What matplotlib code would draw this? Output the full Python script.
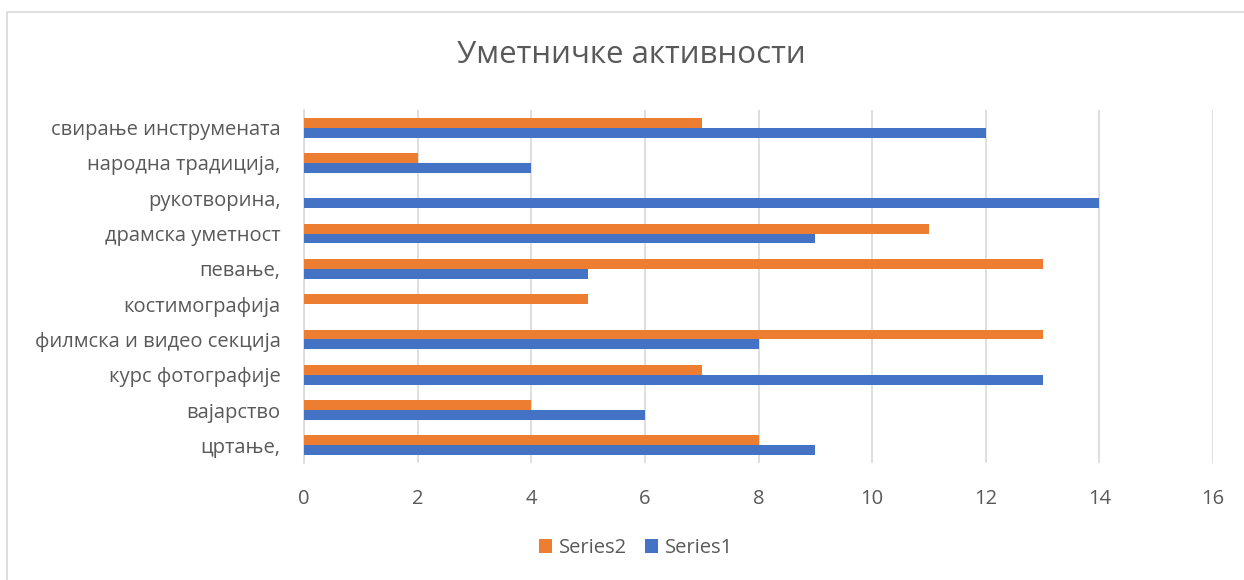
import matplotlib.pyplot as plt
from matplotlib.patches import Rectangle

plt.rcParams['font.family'] = ['Open Sans', 'DejaVu Sans']

# категорије одоздо нагоре
categories = ['цртање,', 'вајарство', 'курс фотографије', 'филмска и видео секција',
              'костимографија', 'певање,', 'драмска уметност', 'рукотворина,',
              'народна традиција,', 'свирање инструмената']
series1 = [9, 6, 13, 8, 0, 5, 9, 14, 4, 12]
series2 = [8, 4, 7, 13, 5, 13, 11, 0, 2, 7]
xticks = [0, 2, 4, 6, 8, 10, 12, 14, 16]

fig = plt.figure(figsize=(12.44, 5.8), dpi=100)
fig.patches.append(Rectangle((7 / 1244, -0.1), 1.2, 1.1 - 12 / 580, transform=fig.transFigure,
                             fill=False, edgecolor='#D9D9D9', linewidth=1.2))

ax = fig.add_axes([304 / 1244, 1 - 463 / 580, (1213 - 304) / 1244, (463 - 110) / 580])

h = 0.28
pos = list(range(len(categories)))
ax.barh([p - h / 2 for p in pos], series1, height=h, color='#4472C4', label='Series1', zorder=3)
ax.barh([p + h / 2 for p in pos], series2, height=h, color='#ED7D31', label='Series2', zorder=3)

ax.set_xlim(0, 16)
ax.set_ylim(-0.5, len(categories) - 0.5)
ax.set_xticks(xticks)
ax.set_yticks(pos)
ax.set_yticklabels(categories)
ax.tick_params(axis='both', length=0, labelsize=14.5, colors='#595959')
ax.tick_params(axis='x', pad=19)
ax.tick_params(axis='y', pad=17)
ax.grid(axis='x', color='#D9D9D9', linewidth=1.2, zorder=0)
for s in ['top', 'right', 'bottom']:
    ax.spines[s].set_visible(False)
ax.spines['left'].set_color('#D9D9D9')
ax.spines['left'].set_linewidth(1.2)

fig.text(631 / 1244, 1 - 55 / 580, 'Уметничке активности', ha='center', va='center',
         fontsize=22.5, color='#595959')

handles, labels = ax.get_legend_handles_labels()
fig.legend(handles[::-1], labels[::-1], loc='center', bbox_to_anchor=(636 / 1244, 1 - 548 / 580),
           ncol=2, frameon=False, fontsize=14.5, labelcolor='#595959',
           handlelength=0.65, handleheight=0.65, handletextpad=0.35, columnspacing=0.9)

fig.savefig('out.png', dpi=100)
